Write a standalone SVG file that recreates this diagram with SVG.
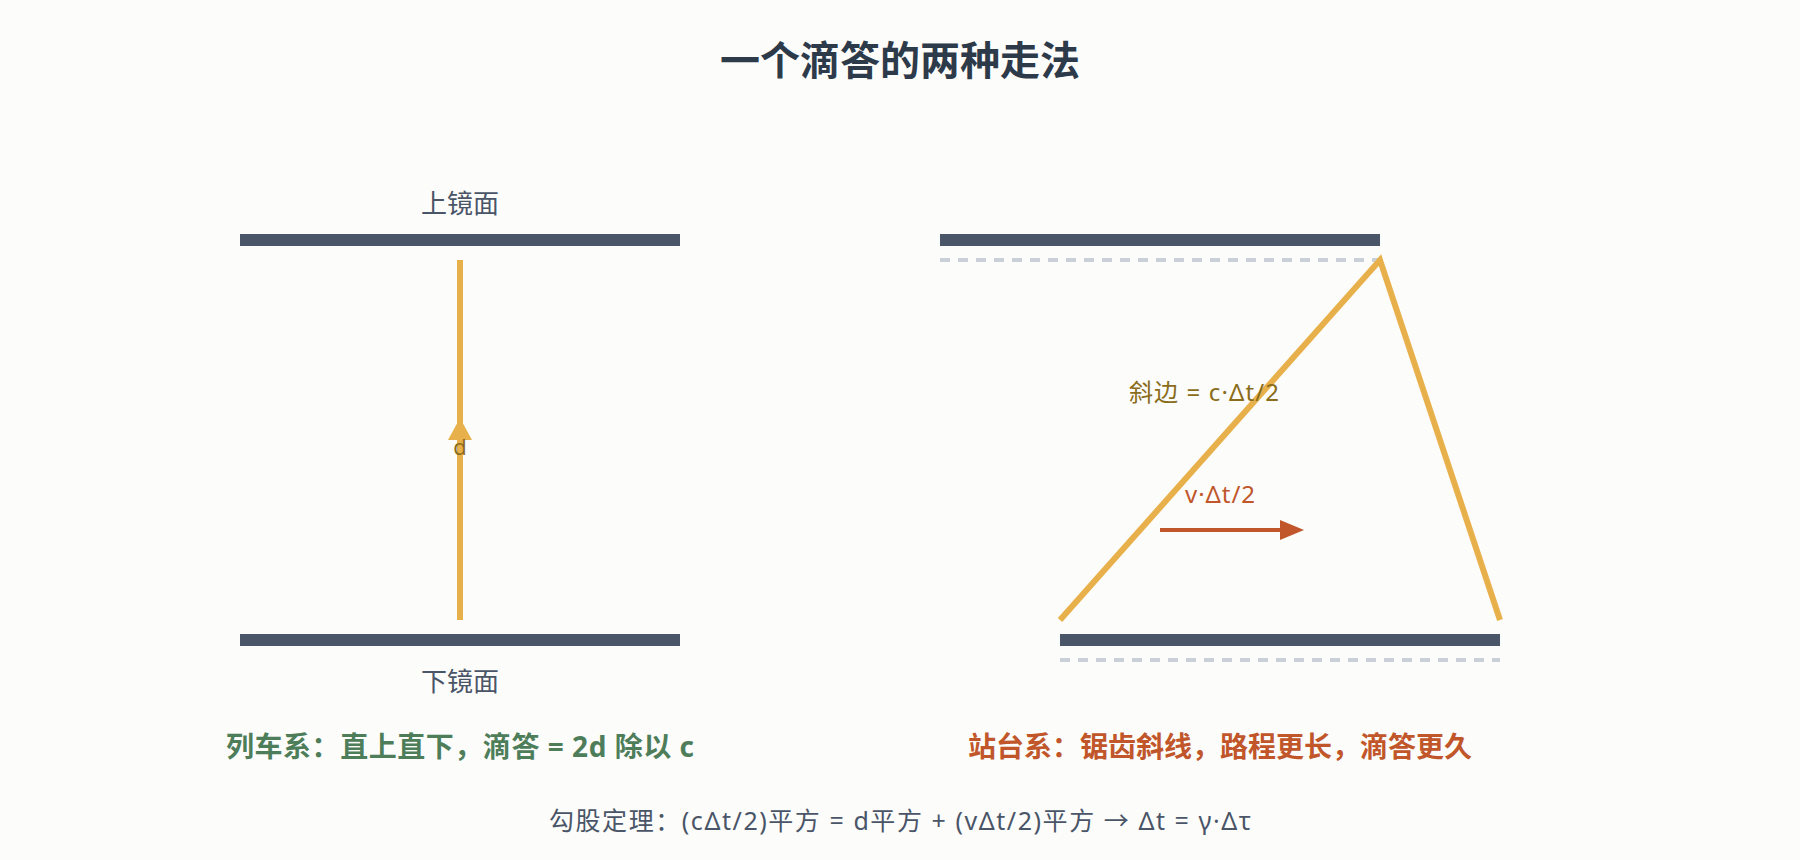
<svg xmlns="http://www.w3.org/2000/svg" width="1800" height="860" viewBox="0 0 1800 860">
<defs>
<style>
text{font-family:"Noto Sans","Noto Sans CJK SC",sans-serif;text-anchor:middle}
.title{font-size:40px;font-weight:700;fill:#2d3a4a}
.mlabel{font-size:26px;fill:#4a5568}
.mirror{fill:#4a5568}
.ghost{stroke:#cbd0d8;stroke-width:4;stroke-dasharray:10 8;fill:none}
.light{stroke:#e8b04a;stroke-width:6;fill:none}
.gold{font-size:24px;fill:#8a6d1a}
.red{font-size:24px;fill:#c0562a}
.cap{font-size:28px;font-weight:700}
.formula{font-size:25px;fill:#4a5568}
</style>
<marker id="redArrow" viewBox="0 0 24 20" markerWidth="24" markerHeight="20" refX="0" refY="10" orient="auto" markerUnits="userSpaceOnUse">
<path d="M0,0 L24,10 L0,20 Z" fill="#c0562a"/>
</marker>
</defs>
<rect width="1800" height="860" fill="#fcfcfa"/>
<text class="title" x="900" y="75">一个滴答的两种走法</text>

<g id="train-frame">
<g id="top-mirror-left">
<rect class="mirror" x="240" y="234" width="440" height="12"/>
<text class="mlabel" x="460" y="213">上镜面</text>
</g>
<g id="bottom-mirror-left">
<rect class="mirror" x="240" y="634" width="440" height="12"/>
<text class="mlabel" x="460" y="691">下镜面</text>
</g>
</g>

<g id="platform-frame">
<g id="top-mirror-right">
<rect class="mirror" x="940" y="234" width="440" height="12"/>
<line class="ghost" x1="940" y1="260" x2="1380" y2="260"/>
</g>
<g id="bottom-mirror-right">
<rect class="mirror" x="1060" y="634" width="440" height="12"/>
<line class="ghost" x1="1060" y1="660" x2="1500" y2="660"/>
</g>
</g>

<g id="connectors">
<line class="light" x1="460" y1="620" x2="460" y2="260"/>
<polygon points="460,418 472,440 448,440" fill="#e8b04a"/>
<polyline class="light" points="1060,620 1380,260 1500,620" stroke-linejoin="miter"/>
<line x1="1160" y1="530" x2="1280" y2="530" stroke="#c0562a" stroke-width="4" marker-end="url(#redArrow)"/>
</g>

<g id="labels">
<text class="gold" x="460" y="455" style="font-size:22px">d</text>
<text class="gold" x="1204" y="401" textLength="150" lengthAdjust="spacing">斜边 = c·Δt/2</text>
<text class="red" x="1220" y="503" textLength="70" lengthAdjust="spacing">v·Δt/2</text>
<text class="cap" x="460" y="757" fill="#4e7d5a" textLength="468" lengthAdjust="spacing">列车系：直上直下，滴答 = 2d 除以 c</text>
<text class="cap" x="1220" y="757" fill="#c0562a">站台系：锯齿斜线，路程更长，滴答更久</text>
<text class="formula" x="900" y="830" textLength="702" lengthAdjust="spacing">勾股定理：(cΔt/2)平方 = d平方 + (vΔt/2)平方 → Δt = γ·Δτ</text>
</g>
</svg>
